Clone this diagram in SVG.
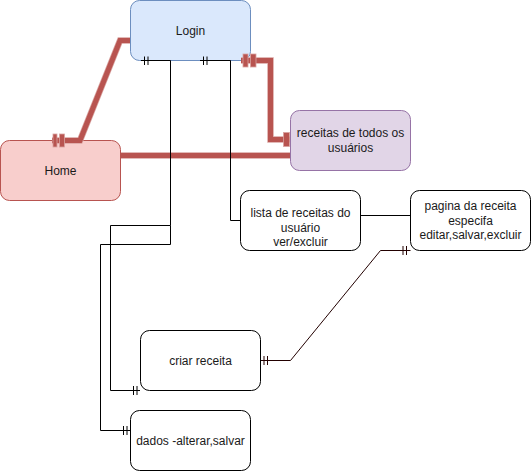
<svg xmlns="http://www.w3.org/2000/svg" width="531" height="472" viewBox="0 0 531 472">
<style>
.t{font-family:"Liberation Sans",Arial,Helvetica,sans-serif;font-size:12px;fill:#1a1a1a;text-anchor:middle;dominant-baseline:central}
.w{fill:#ffffff;stroke:#000000;stroke-width:1}
.thk{fill:none;stroke:#b85450;stroke-width:5;stroke-linejoin:miter}
.thku{fill:none;stroke:#d9a3a0;stroke-width:6.5;stroke-linejoin:miter}
.bar{fill:#b85450;stroke:#d9a3a0;stroke-width:0.8}
.thin{fill:none;stroke:#000000;stroke-width:1}
.brn{fill:none;stroke:#220000;stroke-width:1}
</style>
<rect width="531" height="472" fill="#ffffff"/>
<g id="login">
  <rect x="130.5" y="0.5" width="120" height="60" rx="9" fill="#dae8fc" stroke="#6c8ebf"/>
  <text class="t" x="190.5" y="30.5">Login</text>
</g>
<g id="home">
  <rect x="0.5" y="140.5" width="120" height="60" rx="9" fill="#f8cecc" stroke="#b85450"/>
  <text class="t" x="60.5" y="170.5">Home</text>
</g>
<g id="receitas">
  <rect x="290.5" y="110.5" width="120" height="60" rx="9" fill="#e1d5e7" stroke="#9673a6"/>
  <text class="t" x="350.5" y="133">receitas de todos os</text>
  <text class="t" x="350.5" y="147.5">usuários</text>
</g>
<g id="lista">
  <rect class="w" x="240.5" y="190.5" width="120" height="60" rx="9"/>
  <text class="t" x="300.5" y="213">lista de receitas do</text>
  <text class="t" x="300.5" y="227.5">usuário</text>
  <text class="t" x="300.5" y="242">ver/excluir</text>
</g>
<g id="pagina">
  <rect class="w" x="410.5" y="190.5" width="120" height="60" rx="9"/>
  <text class="t" x="470.5" y="206">pagina da receita</text>
  <text class="t" x="470.5" y="220.5">especifa</text>
  <text class="t" x="470.5" y="235">editar,salvar,excluir</text>
</g>
<g id="criar">
  <rect class="w" x="140.5" y="330.5" width="120" height="60" rx="9"/>
  <text class="t" x="200.5" y="360.5">criar receita</text>
</g>
<g id="dados">
  <rect class="w" x="130.5" y="410.5" width="120" height="60" rx="9"/>
  <text class="t" x="190.5" y="440.5">dados -alterar,salvar</text>
</g>
<g id="connectors">
  <!-- Home - Login -->
  <path class="thku" d="M130,40.5 H120 L80,140.5 H52"/>
  <path class="thk" d="M130,40.5 H120 L80,140.5 H52"/>
  <rect class="bar" x="53" y="134" width="4" height="13"/>
  <rect class="bar" x="59.5" y="134" width="5" height="13"/>
  <!-- Login - receitas -->
  <path class="thku" d="M241,60.5 H270.5 V139.5 H290"/>
  <path class="thk" d="M241,60.5 H270.5 V139.5 H290"/>
  <rect class="bar" x="243" y="54" width="5" height="13"/>
  <rect class="bar" x="250.5" y="54" width="5.5" height="13"/>
  <rect class="bar" x="283.5" y="132.5" width="6" height="14"/>
  <!-- Home - receitas -->
  <path class="thku" d="M121,155.5 H290"/>
  <path class="thk" d="M121,155.5 H290"/>
  <!-- Login - criar receita -->
  <path class="thin" d="M141,60.5 H170.5 V225.5 H110.5 V390.5 H140"/>
  <path class="thin" d="M144.5,56.5 V65 M148,56.5 V65"/>
  <path class="thin" d="M133.5,386 V395 M137,386 V395"/>
  <!-- Login - dados -->
  <path class="thin" d="M170.5,225.5 V244.5 H100.5 V430.5 H130"/>
  <path class="thin" d="M123.5,426 V435 M127,426 V435"/>
  <!-- Login - lista -->
  <path class="thin" d="M200,60.5 H230.5 V220.5 H240"/>
  <path class="thin" d="M203.5,56.5 V65 M207,56.5 V65"/>
  <!-- lista - pagina -->
  <path class="thin" d="M361,215.5 H410"/>
  <!-- criar - pagina -->
  <path class="brn" d="M261,360.5 H290.5 L380.5,250.5 H410.5"/>
  <path class="brn" d="M264,356 V365 M267.5,356 V365"/>
  <path class="brn" d="M403,246 V255 M406.5,246 V255"/>
</g>
</svg>
